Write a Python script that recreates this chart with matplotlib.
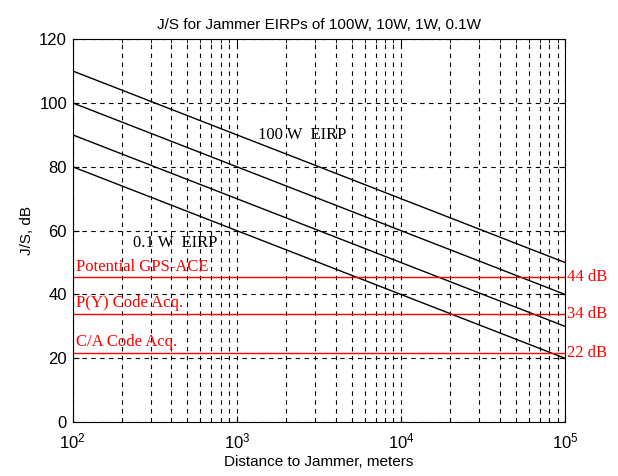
import numpy as np
import matplotlib
matplotlib.use('Agg')
from matplotlib import pyplot as plt
from matplotlib.ticker import LogLocator, NullFormatter

# distances (m) and J/S (dB) at each decade for each jammer power
distance = [1e2, 1e3, 1e4, 1e5]
js_100w = [110, 90, 70, 50]
js_10w = [100, 80, 60, 40]
js_1w = [90, 70, 50, 30]
js_01w = [80, 60, 40, 20]

thresholds = [45.4, 34.0, 21.7]
threshold_names = ['Potential GPS-ACE', 'P(Y) Code Acq.', 'C/A Code Acq.']
threshold_labels = ['44 dB', '34 dB', '22 dB']

fig = plt.figure(figsize=(6.18, 4.76), dpi=100)
ax = fig.add_axes([0.1175, 0.113, 0.797, 0.805])

for js in [js_100w, js_10w, js_1w, js_01w]:
    ax.plot(distance, js, color='black', linewidth=1.0)

ax.set_xscale('log')
ax.set_xlim(1e2, 1e5)
ax.set_ylim(0, 120)
ax.set_yticks([0, 20, 40, 60, 80, 100, 120])
ax.xaxis.set_minor_locator(LogLocator(base=10, subs=np.arange(2, 10)))
ax.xaxis.set_minor_formatter(NullFormatter())

ax.grid(True, which='major', color='black', linestyle=(0, (4, 4)), linewidth=0.8)
ax.grid(True, which='minor', axis='x', color='black', linestyle=(0, (4, 4)), linewidth=0.8)
ax.set_axisbelow(True)
ax.tick_params(which='both', direction='in', labelsize=12, top=True, right=True, length=4)
ax.tick_params(which='minor', length=3)
ax.tick_params(axis='x', pad=7)
ax.tick_params(axis='y', pad=4)

for t, name, lab in zip(thresholds, threshold_names, threshold_labels):
    ax.axhline(t, color='red', linewidth=1.0)
    ax.text(105, t + 0.8, name, color='red', family='Liberation Serif', fontsize=12, va='bottom', ha='left')
    ax.text(1.03e5, t, lab, color='red', family='Liberation Serif', fontsize=12, va='center', ha='left', clip_on=False)

ax.text(1350, 90, '100 W  EIRP', family='Liberation Serif', fontsize=12, va='center', ha='left')
ax.text(234, 56, '0.1 W  EIRP', family='Liberation Serif', fontsize=12, va='center', ha='left')

ax.set_title('J/S for Jammer EIRPs of 100W, 10W, 1W, 0.1W', fontsize=11, family='Liberation Sans', pad=7)
ax.set_xlabel('Distance to Jammer, meters', fontsize=11, family='Liberation Sans', labelpad=2)
ax.set_ylabel('J/S, dB', fontsize=11, family='Liberation Sans')
for lbl in ax.get_xticklabels() + ax.get_yticklabels():
    lbl.set_family('Liberation Sans')

fig.savefig('out.png', dpi=100)
